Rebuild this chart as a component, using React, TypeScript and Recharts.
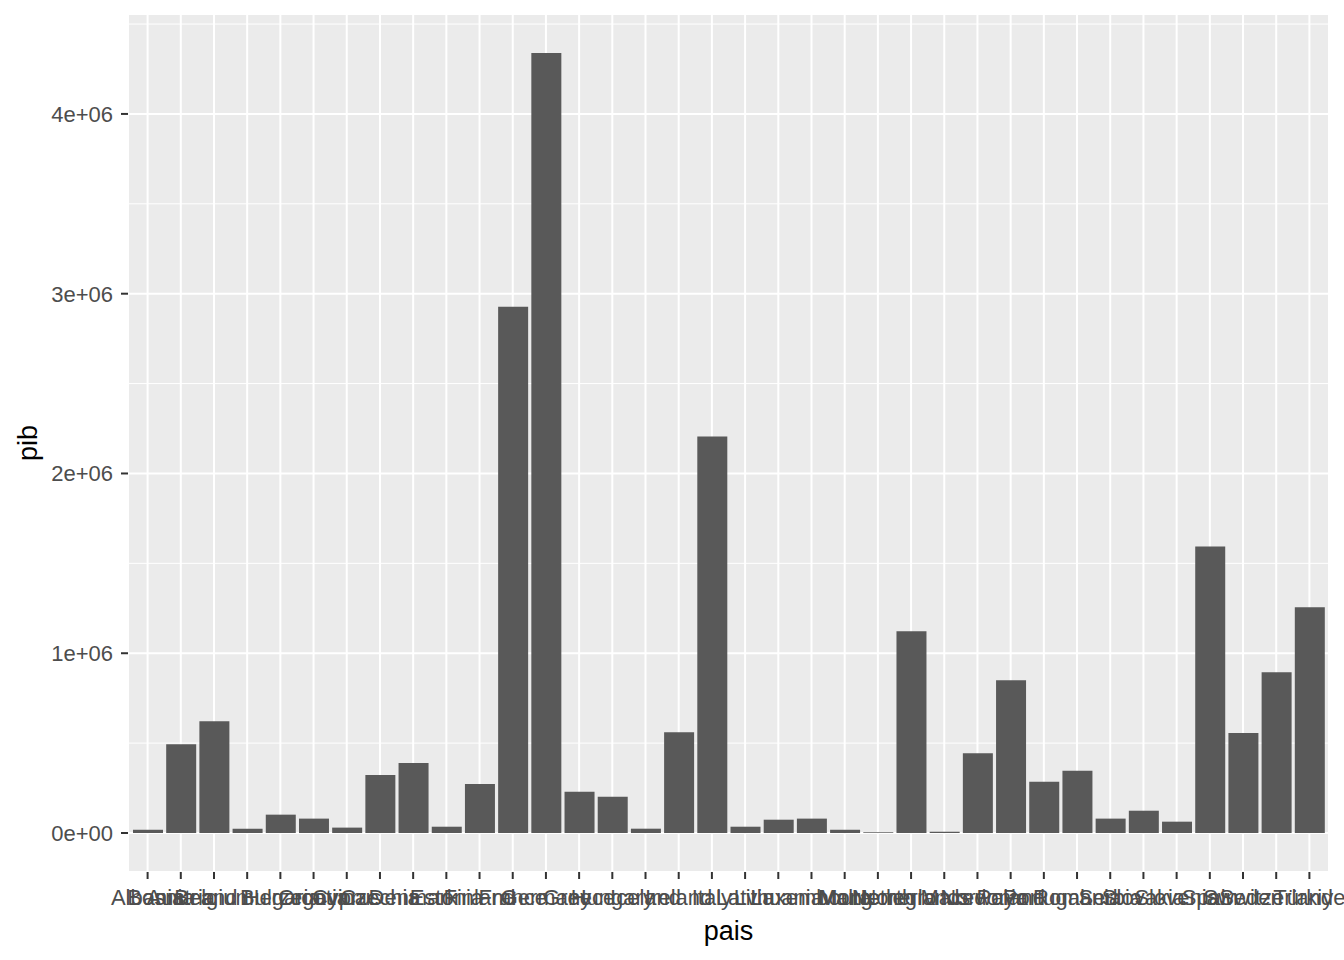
import { BarChart, Bar, XAxis, YAxis, CartesianGrid, ReferenceLine } from "recharts"

const paises = [
  "Albania", "Austria", "Belgium", "Bosnia and Herzegovina", "Bulgaria", "Croatia",
  "Cyprus", "Czechia", "Denmark", "Estonia", "Finland", "France",
  "Germany", "Greece", "Hungary", "Iceland", "Ireland", "Italy",
  "Latvia", "Lithuania", "Luxembourg", "Malta", "Montenegro", "Netherlands",
  "North Macedonia", "Norway", "Poland", "Portugal", "Romania", "Serbia",
  "Slovakia", "Slovenia", "Spain", "Sweden", "Switzerland", "Türkiye",
]

const pib = [
  18000, 494000, 622000, 24000, 102000, 80000,
  30000, 322000, 389000, 35000, 272000, 2928000,
  4339000, 230000, 202000, 24000, 561000, 2206000,
  35000, 74000, 80000, 18000, 4000, 1122000,
  7000, 444000, 850000, 285000, 346000, 80000,
  124000, 63000, 1594000, 556000, 894000, 1256000,
]

const majorBreaks = [0, 1000000, 2000000, 3000000, 4000000]
const minorBreaks = [500000, 1500000, 2500000, 3500000, 4500000]

const data = paises.map((pais, i) => ({ pais, pib: pib[i] }))

// ggplot style: 5% expansion on both ends
const maxPib = Math.max(...pib)
const yDomain = [-0.05 * maxPib, 1.05 * maxPib]

const sci = (v: number) => {
  if (v === 0) return "0e+00"
  const [m, e] = v.toExponential().split("e")
  const sign = e[0] === "-" ? "-" : "+"
  return `${m}e${sign}${e.replace(/[+-]/, "").padStart(2, "0")}`
}

const font = "'Liberation Sans', Arial, sans-serif"

function YTitle(props: any) {
  const vb = props.viewBox || { x: 0, y: 14, width: 128, height: 858 }
  const x = vb.x + 37
  const y = vb.y + vb.height / 2
  return (
    <text x={x} y={y} transform={`rotate(-90 ${x} ${y})`} textAnchor="middle" fill="#000" fontSize={27} fontFamily={font}>
      pib
    </text>
  )
}

export default function App() {
  return (
    <div style={{ position: "absolute", left: 0, top: 0, fontFamily: font }}>
      <BarChart width={1344} height={960} data={data} margin={{ top: 14, right: 15, bottom: 0, left: 0 }}>
        <CartesianGrid fill="#EBEBEB" stroke="#FFFFFF" strokeWidth={2} />
        {minorBreaks.map((v) => (
          <ReferenceLine key={v} y={v} stroke="#FFFFFF" strokeWidth={1} zIndex={-90} />
        ))}
        <XAxis
          dataKey="pais"
          interval={0}
          height={88}
          padding={{ left: 3, right: 3 }}
          axisLine={false}
          tickSize={7}
          tickMargin={10}
          tickLine={{ stroke: "#333333", strokeWidth: 2 }}
          tick={{ fill: "#4D4D4D", fontSize: 22, fontFamily: font }}
          label={{ value: "pais", position: "insideBottom", offset: 20, fill: "#000", fontSize: 27, fontFamily: font }}
        />
        <YAxis
          type="number"
          width={128}
          domain={yDomain}
          allowDataOverflow
          ticks={majorBreaks}
          tickFormatter={sci}
          axisLine={false}
          tickSize={7}
          tickMargin={8}
          tickLine={{ stroke: "#333333", strokeWidth: 2 }}
          tick={{ fill: "#4D4D4D", fontSize: 22, fontFamily: font }}
          label={{ content: YTitle }}
        />
        <Bar dataKey="pib" fill="#595959" barSize={30} isAnimationActive={false} />
      </BarChart>
    </div>
  )
}
